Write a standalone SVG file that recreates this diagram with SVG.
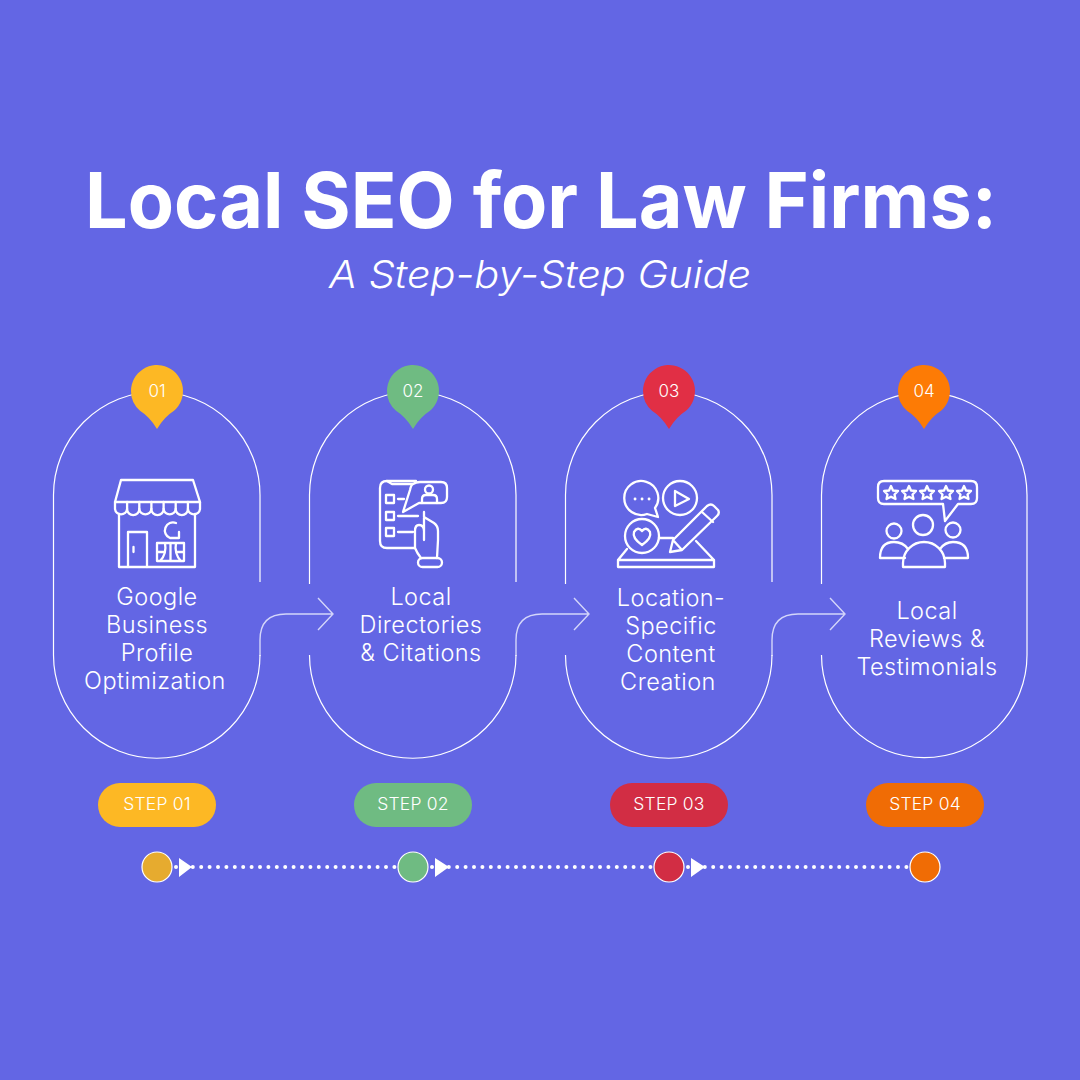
<svg xmlns="http://www.w3.org/2000/svg" width="1080" height="1080" viewBox="0 0 1080 1080">
<defs>
<style>
.t{font-family:"Inter","Liberation Sans",sans-serif;fill:#fff}
.lb{font-size:23.5px;font-weight:300;text-anchor:middle;letter-spacing:.45px}
.n{font-size:17px;font-weight:300;text-anchor:middle}
.s{font-size:17.5px;font-weight:300;text-anchor:middle;letter-spacing:.2px}
.o{fill:none;stroke:#fff;stroke-width:1.2}
.c{fill:none;stroke:#d4d6fa;stroke-width:1.4}
.i{fill:none;stroke:#fff;stroke-width:2.3;stroke-linejoin:round;stroke-linecap:round}
.d{fill:none;stroke:#fff;stroke-width:4;stroke-dasharray:0 8.4;stroke-linecap:round}
.dot{stroke:#fff;stroke-width:1.2}
</style>
<path id="pin" d="M-26 0A26 26 0 1 1 17 19.700Q7 26 0 38Q-7 26 -17 19.700A26 26 0 0 1 -26 0Z"/>
</defs>
<rect width="1080" height="1080" fill="#6366e4"/>
<g id="title">
<text class="t" x="541" y="228" text-anchor="middle" font-size="77" font-weight="700" textLength="912" lengthAdjust="spacingAndGlyphs">Local SEO for Law Firms:</text>
<text class="t" x="540" y="288" text-anchor="middle" font-size="38.5" font-weight="300" font-style="italic" textLength="422" lengthAdjust="spacingAndGlyphs">A Step-by-Step Guide</text>
</g>
<g id="connectors">
<path class="c" d="M260 656V640Q260 614 286 614H332M318 598L333 614L318 630"/>
<path class="c" d="M516 656V640Q516 614 542 614H588M574 598L589 614L574 630"/>
<path class="c" d="M772 656V640Q772 614 798 614H844M830 598L845 614L830 630"/>
<path class="d" d="M176 867H396"/>
<path class="d" d="M432 867H652"/>
<path class="d" d="M688 867H908"/>
<path d="M179 858L192 867L179 877Z M435 858L449 867L435 877Z M691 858L705 867L691 877Z" fill="#fff"/>
</g>
<g id="step1">
<path class="o" d="M260 582V495A103.250 103.250 0 0 0 53.500 495V655A103.250 103.250 0 0 0 260 655"/>
<use href="#pin" x="157" y="391" fill="#fdb824"/>
<text class="t n" x="157" y="397">01</text>
<g class="i">
<path d="M121 480H193L200 502H115Z"/>
<path d="M115 502V509A6.100 6.100 0 0 0 127.100 509A6.100 6.100 0 0 0 139.300 509A6.100 6.100 0 0 0 151.400 509A6.100 6.100 0 0 0 163.600 509A6.100 6.100 0 0 0 175.700 509A6.100 6.100 0 0 0 187.900 509A6.100 6.100 0 0 0 200 509V502"/>
<path d="M127.100 502V509M139.300 502V509M151.400 502V509M163.600 502V509M175.700 502V509M187.900 502V509"/>
<path d="M119 514V567H195V514"/>
<path d="M128 567V532H147V567M133.500 547V552"/>
<path d="M157 543H184V561H157ZM165 543Q167 554 160 561M176 543Q174 554 181 561M170.500 543V561M157 552H164M177 552H184"/>
<path d="M176 523A8 8 0 1 0 170 538H179V532"/>
</g>
<text class="t lb" x="157" y="605">Google</text>
<text class="t lb" x="157" y="633">Business</text>
<text class="t lb" x="157" y="661">Profile</text>
<text class="t lb" x="155" y="689">Optimization</text>
<rect x="98" y="783" width="118" height="44" rx="22" fill="#fdb824"/>
<text class="t s" x="157" y="810">STEP 01</text>
<circle class="dot" cx="157" cy="867" r="15" fill="#e6ab2f"/>
</g>
<g id="step2">
<path class="o" d="M516 582V495A103.250 103.250 0 0 0 309.500 495V584M309.500 655A103.250 103.250 0 0 0 516 655"/>
<use href="#pin" x="413" y="391" fill="#6fbb82"/>
<text class="t n" x="413" y="397">02</text>
<g class="i">
<path d="M415 548H387Q380 548 380 541V488Q380 481 387 481H416"/>
<path d="M387 481L392 484H413"/>
<path d="M413 484Q416 482 420 482H441Q447 482 447 488V497Q447 503 441 503H437M422 503H419L403 512L410 490Q411 485 413 484"/>
<path d="M386 495H394V503H386ZM386 512H394V520H386ZM386 528H394V536H386Z"/>
<path d="M398 499H404M398 516H418M398 532H413"/>
<circle cx="429" cy="489.500" r="4"/>
<path d="M422 503V499Q422 495 426 495H433Q437 495 437 499V503Z"/>
<path d="M424 512V540M424 517L434 523Q438 526 438 531V540L437 558M415 548V531Q415 525 419 525Q424 525 424 531M415 548Q417 553 421 558"/>
<rect x="418" y="558" width="24" height="9" rx="4.500"/>
</g>
<text class="t lb" x="421" y="605">Local</text>
<text class="t lb" x="421" y="633">Directories</text>
<text class="t lb" x="421" y="661">&amp; Citations</text>
<rect x="354" y="783" width="118" height="44" rx="22" fill="#6fbb82"/>
<text class="t s" x="413" y="810">STEP 02</text>
<circle class="dot" cx="413" cy="867" r="15" fill="#6fbb82"/>
</g>
<g id="step3">
<path class="o" d="M772 582V495A103.250 103.250 0 0 0 565.500 495V584M565.500 655A103.250 103.250 0 0 0 772 655"/>
<use href="#pin" x="669" y="391" fill="#e12f45"/>
<text class="t n" x="669" y="397">03</text>
<g class="i">
<path d="M655 508A17 17 0 1 0 647 514L658 517Z"/>
<circle cx="680" cy="498" r="17"/>
<path d="M675 491L689 499L675 506Z"/>
<path d="M635 499H635.100M642 499H642.100M649 499H649.100" stroke-width="2.800"/>
<circle cx="642" cy="536" r="17"/>
<path d="M642 545Q632 538 634 532Q638 526 642 531Q646 526 650 532Q652 538 642 545Z"/>
<path d="M659 538H673"/>
<path d="M670 552L673 540L707 506Q711 503 714 506L718 510Q720 513 717 516L682 550ZM702 512L713 522M673 540L682 550"/>
<path d="M627 549L618 560H714L696 541M618 560V567H714V560"/>
</g>
<text class="t lb" x="671" y="606">Location-</text>
<text class="t lb" x="671" y="634">Specific</text>
<text class="t lb" x="671" y="662">Content</text>
<text class="t lb" x="668" y="690">Creation</text>
<rect x="610" y="783" width="118" height="44" rx="22" fill="#d22d44"/>
<text class="t s" x="669" y="810">STEP 03</text>
<circle class="dot" cx="669" cy="867" r="15" fill="#d22d44"/>
</g>
<g id="step4">
<path class="o" d="M821.500 584V495A102.750 102.750 0 0 1 1027 495V655A102.750 102.750 0 0 1 821.500 655"/>
<use href="#pin" x="924" y="391" fill="#fd7b05"/>
<text class="t n" x="924" y="397">04</text>
<g class="i">
<path d="M884 481H971Q977 481 977 487V498Q977 504 971 504H958L945 521L943 504H884Q878 504 878 498V487Q878 481 884 481Z"/>
<path id="star" d="M891 486L893 490.500L898 491L894.500 494.500L895.500 499L891 496.700L886.500 499L887.500 494.500L884 491L889 490.500Z"/>
<use href="#star" x="18"/><use href="#star" x="36"/><use href="#star" x="55"/><use href="#star" x="73"/>
<circle cx="894" cy="531" r="7.500"/>
<circle cx="923" cy="525" r="10"/>
<circle cx="953" cy="530" r="7.500"/>
<path d="M903 567V563A21 21 0 0 1 945 563V567Z"/>
<path d="M905 558H880Q880 542 894 542Q903 542 908 549"/>
<path d="M944 558H968Q968 542 953 542Q945 542 940 549"/>
</g>
<text class="t lb" x="927" y="619">Local</text>
<text class="t lb" x="927" y="647">Reviews &amp;</text>
<text class="t lb" x="927" y="675">Testimonials</text>
<rect x="866" y="783" width="118" height="44" rx="22" fill="#f06c05"/>
<text class="t s" x="925" y="810">STEP 04</text>
<circle class="dot" cx="925" cy="867" r="15" fill="#f06c05"/>
</g>
</svg>
